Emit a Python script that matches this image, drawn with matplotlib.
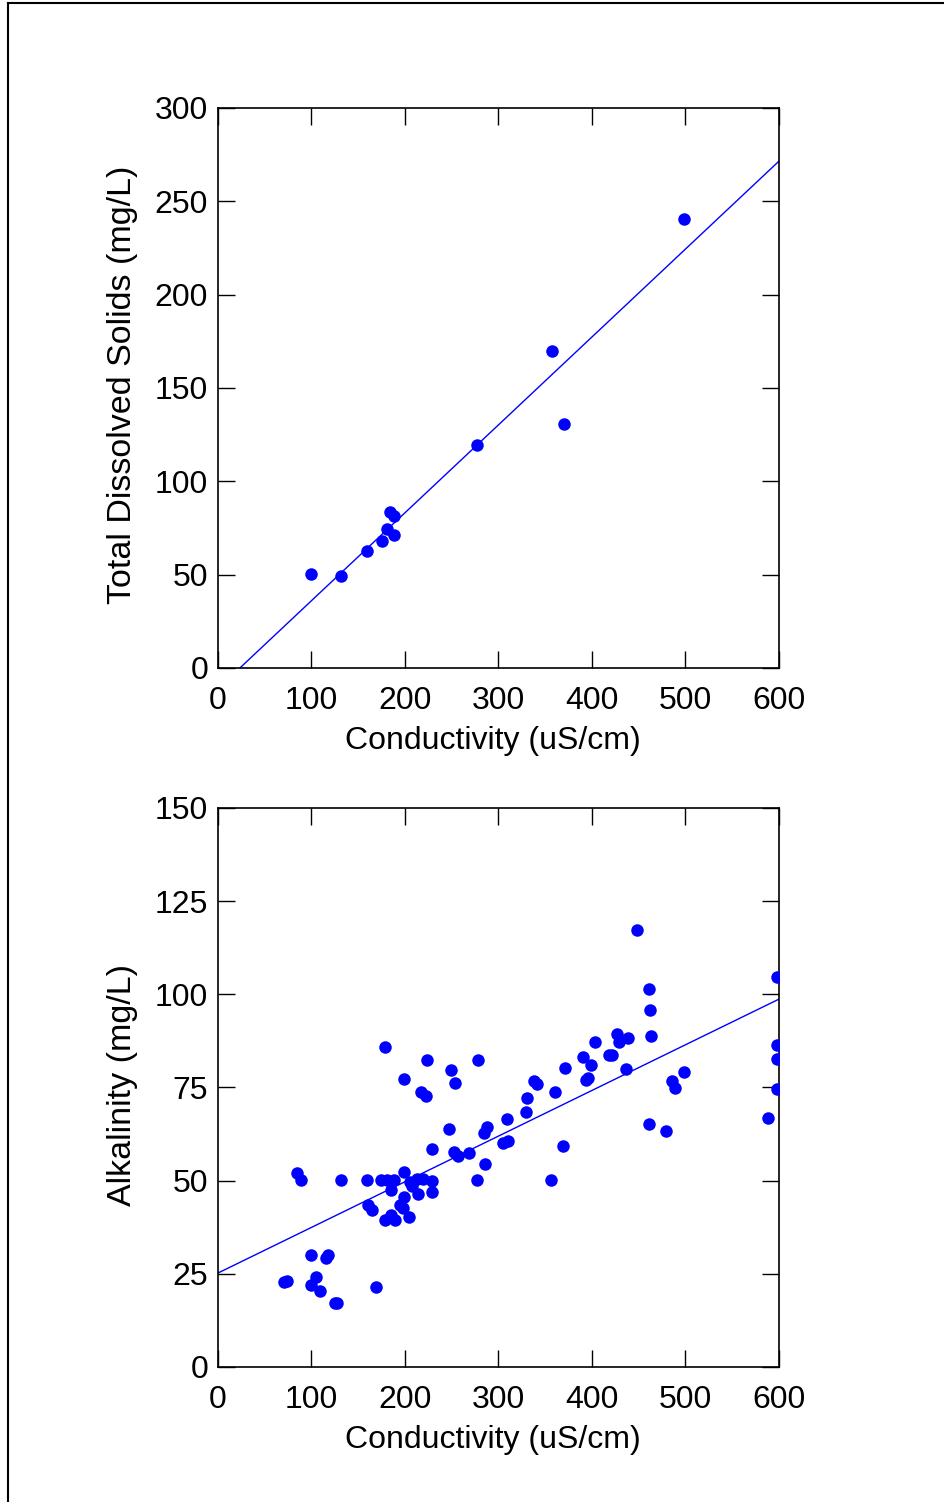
import numpy as np
import matplotlib
matplotlib.use("Agg")
import matplotlib.pyplot as plt
from matplotlib.lines import Line2D

plt.rcParams['font.family'] = ['Liberation Sans', 'DejaVu Sans']

# top panel: conductivity vs total dissolved solids
tds_cond = [99.3, 132, 159.1, 175.1, 181.1, 184, 188.6, 188.2, 276.7, 356.9, 369.9, 498.2]
tds_val = [50.5, 49.5, 62.5, 68, 74.3, 83.7, 81.6, 71.3, 119.6, 170, 130.6, 240.5]
tds_fit = (0.471, -11.07)   # slope, intercept

# bottom panel: conductivity vs alkalinity
alk_cond = [179, 223.9, 248.9, 278.4, 198.9, 253.8, 217.1, 222.1, 247, 287.4,
            284.8, 308.7, 304.5, 310.2, 228.9, 252.7, 257, 268.8, 285.9, 276.7,
            84.1, 89.1, 131.2, 159, 174.3, 180.4, 188.2, 198.9, 185, 205.3,
            212.5, 219.6, 228.5, 229.2, 213.5, 198.9, 194.7, 198.2, 160.8, 164.4,
            184.7, 178.6, 189.3, 204.3, 99.1, 115.2, 117.3, 70.6, 73.5, 104.8,
            99.1, 109.4, 125.1, 127.6, 169,
            448.5, 598.2, 460.6, 461.7, 462.8, 403.5, 426.4, 428.9, 438.8, 390.7,
            398.6, 418.5, 420.9, 370.8, 436.4, 393.6, 396.1, 338.3, 340.9, 360.4,
            330.8, 329.1, 368.6, 355.8, 598.2, 598.2, 598.2, 588.6, 485.2, 488.4,
            498.4, 460.6, 478.8, 207]
alk_val = [85.8, 82.4, 79.7, 82.3, 77.2, 76.3, 73.9, 72.7, 63.9, 64.5,
           62.7, 66.4, 60.2, 60.7, 58.4, 57.8, 56.6, 57.5, 54.5, 50.3,
           52, 50.2, 50.3, 50.3, 50.3, 50.3, 50.3, 52.4, 47.5, 49.5,
           50.4, 50.4, 50, 47, 46.3, 45.5, 43.5, 42.6, 43.5, 42.1,
           40.8, 39.4, 39.4, 40.2, 30.1, 29.2, 30.1, 22.7, 23.2, 24.1,
           22, 20.5, 17.1, 17.1, 21.5,
           117.3, 104.7, 101.4, 95.8, 88.9, 87.3, 89.3, 87.3, 88.4, 83.3,
           81.1, 83.7, 83.7, 80.3, 79.9, 77, 77.6, 76.6, 75.9, 73.7,
           72.3, 68.3, 59.3, 50.2, 86.3, 82.7, 74.7, 66.8, 76.6, 74.8,
           79.2, 65.2, 63.4, 48.5]
alk_fit = (0.1225, 25.2)

blue = '#0000ff'
fs = 23

fig = plt.figure(figsize=(9.44, 15.02), dpi=100)

# outer frame (only left and top edges fall inside the picture)
fig.add_artist(Line2D([0.0085, 0.0085], [0, 0.998], color='black', lw=1.5,
                      transform=fig.transFigure))
fig.add_artist(Line2D([0.0085, 1], [0.998, 0.998], color='black', lw=1.5,
                      transform=fig.transFigure))


def panel(rect, xs, ys, fit, ymax, ystep, ylabel):
    ax = fig.add_axes(rect)
    ax.plot(xs, ys, 'o', color=blue, ms=9, mec='none', zorder=3)
    xl = np.array([0, 600])
    yl = fit[0] * xl + fit[1]
    ax.plot(xl, yl, color=blue, lw=1.0, zorder=2)
    ax.set_xlim(0, 600)
    ax.set_ylim(0, ymax)
    ax.set_xticks(np.arange(0, 601, 100))
    ax.set_yticks(np.arange(0, ymax + 1, ystep))
    ax.tick_params(direction='in', length=12, width=1, top=True, right=True,
                   labelsize=fs)
    ax.tick_params(axis='x', pad=13)
    ax.tick_params(axis='y', pad=7)
    for s in ax.spines.values():
        s.set_linewidth(1.2)
    ax.set_xlabel('Conductivity (uS/cm)', fontsize=fs, labelpad=7)
    ax.set_ylabel(ylabel, fontsize=24.5, labelpad=12)
    ax.xaxis.label.set_x(0.49)
    ax.yaxis.label.set_y(0.505)
    return ax


panel([0.2309, 0.5553, 0.5943, 0.3728], tds_cond, tds_val, tds_fit, 300, 50,
      'Total Dissolved Solids (mg/L)')
panel([0.2309, 0.0899, 0.5943, 0.3722], alk_cond, alk_val, alk_fit, 150, 25,
      'Alkalinity (mg/L)')

fig.savefig('out.png', dpi=100)
